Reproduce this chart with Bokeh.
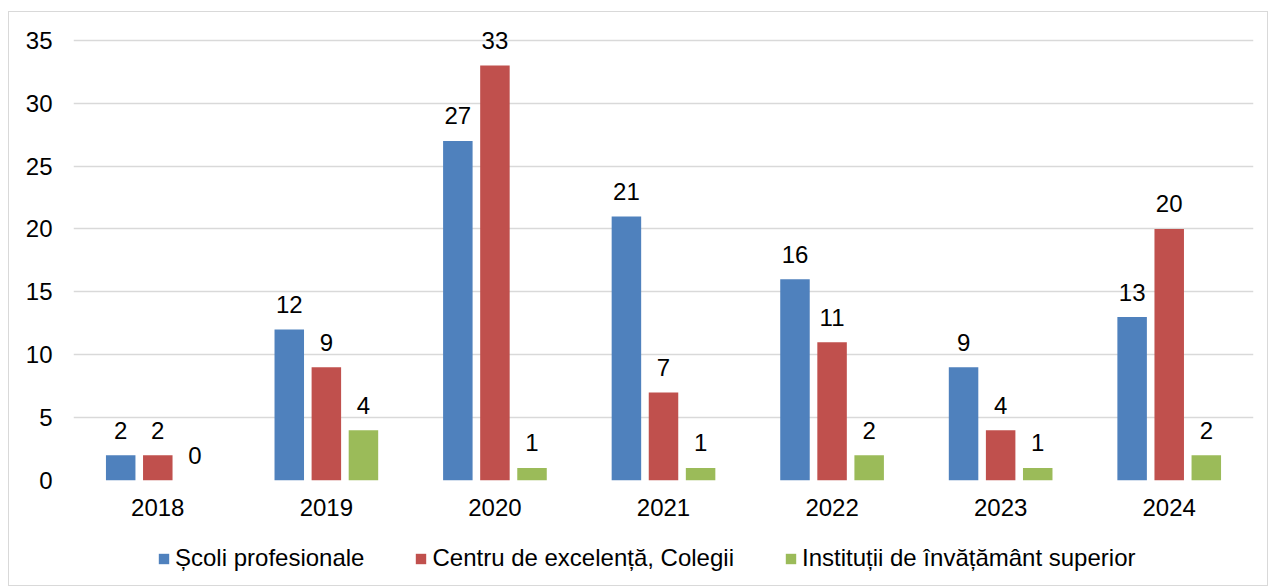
from bokeh.plotting import figure
from bokeh.layouts import column
from bokeh.models import ColumnDataSource, Legend, LegendItem, FixedTicker, Range1d
from bokeh.transform import dodge
from bokeh.core.properties import value
from bokeh.embed import file_html
from bokeh.resources import INLINE

years = ["2018", "2019", "2020", "2021", "2022", "2023", "2024"]
scoli = [2, 12, 27, 21, 16, 9, 13]
centru = [2, 9, 33, 7, 11, 4, 20]
institutii = [0, 4, 1, 1, 2, 1, 2]
series_names = ["Școli profesionale", "Centru de excelență, Colegii", "Instituții de învățământ superior"]
colors = ["#4F81BD", "#C0504D", "#9BBB59"]
y_ticks = [0, 5, 10, 15, 20, 25, 30, 35]

FONT = "Liberation Sans"

# y range extends a little above the top tick so the labels above tall bars are not clipped
p = figure(x_range=years, y_range=Range1d(0, 36.5), width=1258, height=511,
           output_backend="svg", toolbar_location=None,
           min_border_left=64, min_border_right=14, min_border_top=9, min_border_bottom=43)
p.outline_line_color = None
p.background_fill_color = "white"
p.border_fill_color = "white"

src = ColumnDataSource(dict(years=years, s0=scoli, s1=centru, s2=institutii,
                            t0=[str(v) for v in scoli], t1=[str(v) for v in centru],
                            t2=[str(v) for v in institutii]))

offsets = [-0.22, 0.0, 0.22]
for i in range(3):
    p.vbar(x=dodge("years", offsets[i], range=p.x_range), top=f"s{i}", width=0.175,
           source=src, fill_color=colors[i], line_color=None)
    p.text(x=dodge("years", offsets[i], range=p.x_range), y=f"s{i}", text=f"t{i}", source=src,
           text_align="center", text_baseline="alphabetic", y_offset=-25,
           text_font=value(FONT), text_font_size="24px", text_color="black")

p.xgrid.grid_line_color = None
p.ygrid.grid_line_color = "#d9d9d9"
p.ygrid.grid_line_width = 1.3
p.yaxis.ticker = FixedTicker(ticks=y_ticks)

for ax in (p.xaxis[0], p.yaxis[0]):
    ax.axis_line_color = None
    ax.major_tick_line_color = None
    ax.minor_tick_line_color = None
    ax.major_tick_out = 0
    ax.major_tick_in = 0
    ax.major_label_text_font = FONT
    ax.major_label_text_font_size = "24px"
    ax.major_label_text_color = "black"
p.xaxis.major_label_standoff = 18
p.yaxis.major_label_standoff = 21

# legend strip (zero-height bars act as legend proxies)
pl = figure(width=1258, height=62, output_backend="svg", toolbar_location=None,
            x_range=years, y_range=Range1d(0, 1),
            x_axis_location=None, y_axis_location=None,
            min_border=0, min_border_left=0, min_border_right=0,
            min_border_top=0, min_border_bottom=0)
pl.outline_line_color = None
pl.grid.visible = False
pl.border_fill_color = "white"
items = []
for i in range(3):
    r = pl.vbar(x="years", top=0, bottom=0, width=0.1, source=src,
                fill_color=colors[i], line_color=None)
    items.append(LegendItem(label=series_names[i], renderers=[r]))
legend = Legend(items=items, orientation="horizontal", location=(84, 13),
                glyph_width=13, glyph_height=13, label_standoff=5, spacing=50,
                label_text_font=FONT, label_text_font_size="24px", label_text_color="black",
                border_line_color=None, background_fill_alpha=0, padding=0, margin=0)
pl.add_layout(legend)

layout = column(p, pl, spacing=0, margin=(11, 0, 0, 8),
                styles={"border": "1px solid #d9d9d9"})

open("out.html", "w").write(file_html(layout, INLINE))
